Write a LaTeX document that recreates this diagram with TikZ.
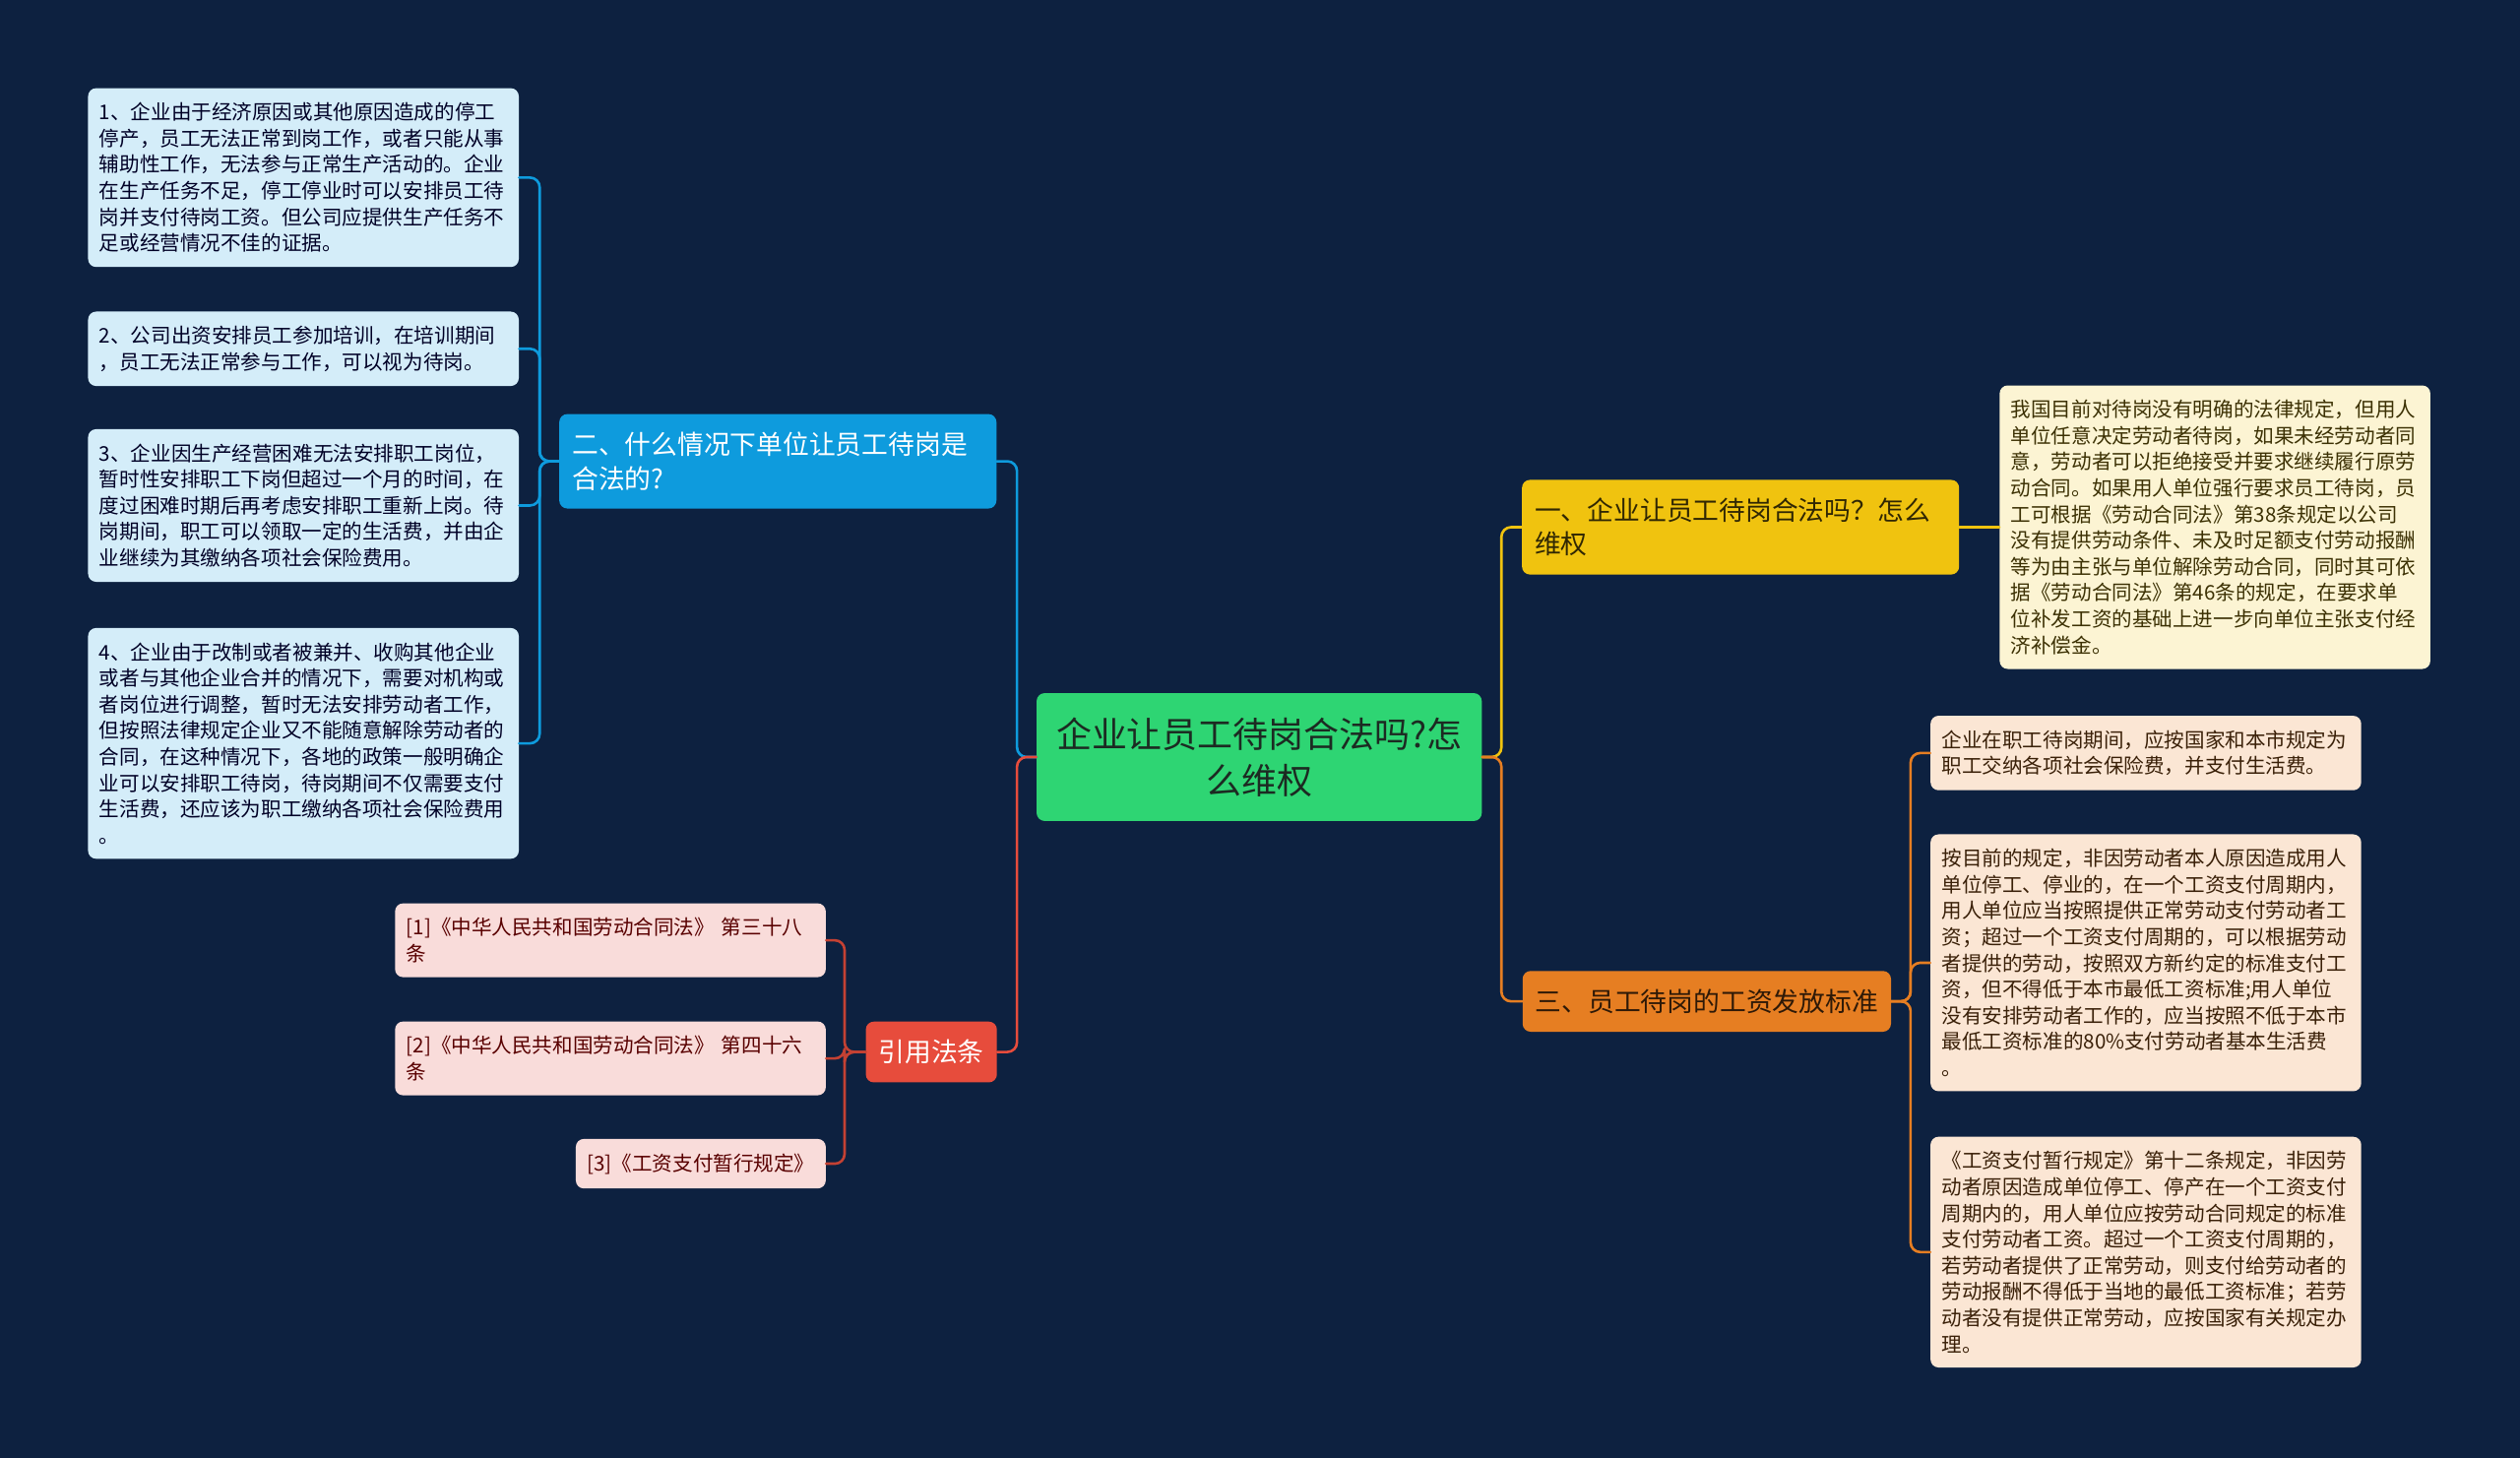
\documentclass[tikz,border=0pt]{standalone}
\usepackage{fontspec}
\setmainfont{Noto Sans CJK SC}

\definecolor{bgnavy}{HTML}{0D2140}
\definecolor{rootgreen}{HTML}{2ED573}
\definecolor{roottext}{HTML}{1C2A22}
\definecolor{bluebranch}{HTML}{0E9BDD}
\definecolor{yellowbranch}{HTML}{F0C30F}
\definecolor{orangebranch}{HTML}{E67E22}
\definecolor{redbranch}{HTML}{E74C3C}
\definecolor{blueleaf}{HTML}{D4EDF9}
\definecolor{pinkleaf}{HTML}{F9DCDA}
\definecolor{creamleaf}{HTML}{FCF4D3}
\definecolor{orangeleaf}{HTML}{FBE6D4}

\begin{document}
\begin{tikzpicture}[x=1pt, y=-1pt, line join=round, line cap=round,
	root/.style={fill=rootgreen, text=roottext, rounded corners=5pt, inner xsep=10pt, inner ysep=15pt, text width=257pt, align=center, font=\fontsize{22}{29}\selectfont},
	branch/.style={rounded corners=5pt, inner xsep=8pt, inner ysep=11.3pt, align=left, font=\fontsize{16.4}{21}\selectfont},
	leaf/.style={rounded corners=5pt, inner xsep=7pt, inner ysep=9pt, align=left, font=\fontsize{12.6}{16.3}\selectfont},
	wideleaf/.style={leaf, text width=254pt},
	link/.style={line width=1.6pt, rounded corners=6pt}]
			
			\useasboundingbox (0,0) rectangle (1568,907);
			
			\fill[bgnavy] (0,0) rectangle (1568,907);
			
			\node[root] (root) at (783.5,471) {企业让员工待岗合法吗?怎\\么维权};
			
			\node[branch, fill=bluebranch, text=white, text width=256pt] (situation) at (484,287) {二、什么情况下单位让员工待岗是\\合法的?};
			
			\node[branch, fill=yellowbranch, text=black!80!yellowbranch, text width=256pt] (legal) at (1083,328) {一、企业让员工待岗合法吗？怎么\\维权};
			
			\node[branch, fill=orangebranch, text=black!80!orangebranch] (wage) at (1062,623) {三、员工待岗的工资发放标准};
			
			\node[branch, fill=redbranch, text=white] (laws) at (579.5,654.5) {引用法条};
			
			\node[wideleaf, fill=blueleaf, text=black!85!blue, anchor=east] (case1) at (323,110.5) {1、企业由于经济原因或其他原因造成的停工\\停产，员工无法正常到岗工作，或者只能从事\\辅助性工作，无法参与正常生产活动的。企业\\在生产任务不足，停工停业时可以安排员工待\\岗并支付待岗工资。但公司应提供生产任务不\\足或经营情况不佳的证据。};
			
			\node[wideleaf, fill=blueleaf, text=black!85!blue, anchor=east] (case2) at (323,217) {2、公司出资安排员工参加培训，在培训期间\\，员工无法正常参与工作，可以视为待岗。};
			
			\node[wideleaf, fill=blueleaf, text=black!85!blue, anchor=east] (case3) at (323,314.5) {3、企业因生产经营困难无法安排职工岗位，\\暂时性安排职工下岗但超过一个月的时间，在\\度过困难时期后再考虑安排职工重新上岗。待\\岗期间，职工可以领取一定的生活费，并由企\\业继续为其缴纳各项社会保险费用。};
			
			\node[wideleaf, fill=blueleaf, text=black!85!blue, anchor=east] (case4) at (323,462.5) {4、企业由于改制或者被兼并、收购其他企业\\或者与其他企业合并的情况下，需要对机构或\\者岗位进行调整，暂时无法安排劳动者工作，\\但按照法律规定企业又不能随意解除劳动者的\\合同，在这种情况下，各地的政策一般明确企\\业可以安排职工待岗，待岗期间不仅需要支付\\生活费，还应该为职工缴纳各项社会保险费用\\。};
			
			\node[wideleaf, fill=pinkleaf, text=black!65!red, anchor=east] (law1) at (514,585) {[1]《中华人民共和国劳动合同法》 第三十八\\条};
			
			\node[wideleaf, fill=pinkleaf, text=black!65!red, anchor=east] (law2) at (514,658.5) {[2]《中华人民共和国劳动合同法》 第四十六\\条};
			
			\node[leaf, fill=pinkleaf, text=black!65!red, anchor=east] (law3) at (514,724) {[3]《工资支付暂行规定》};
			
			\node[wideleaf, fill=creamleaf, text=black!75!yellowbranch, anchor=west] (rights) at (1244,328) {我国目前对待岗没有明确的法律规定，但用人\\单位任意决定劳动者待岗，如果未经劳动者同\\意，劳动者可以拒绝接受并要求继续履行原劳\\动合同。如果用人单位强行要求员工待岗，员\\工可根据《劳动合同法》第38条规定以公司\\没有提供劳动条件、未及时足额支付劳动报酬\\等为由主张与单位解除劳动合同，同时其可依\\据《劳动合同法》第46条的规定，在要求单\\位补发工资的基础上进一步向单位主张支付经\\济补偿金。};
			
			\node[wideleaf, fill=orangeleaf, text=black!75!orangebranch, anchor=west] (pay1) at (1201,468.5) {企业在职工待岗期间，应按国家和本市规定为\\职工交纳各项社会保险费，并支付生活费。};
			
			\node[wideleaf, fill=orangeleaf, text=black!75!orangebranch, anchor=west] (pay2) at (1201,599) {按目前的规定，非因劳动者本人原因造成用人\\单位停工、停业的，在一个工资支付周期内，\\用人单位应当按照提供正常劳动支付劳动者工\\资；超过一个工资支付周期的，可以根据劳动\\者提供的劳动，按照双方新约定的标准支付工\\资，但不得低于本市最低工资标准;用人单位\\没有安排劳动者工作的，应当按照不低于本市\\最低工资标准的80\%支付劳动者基本生活费\\。};
			
			\node[wideleaf, fill=orangeleaf, text=black!75!orangebranch, anchor=west] (pay3) at (1201,779) {《工资支付暂行规定》第十二条规定，非因劳\\动者原因造成单位停工、停产在一个工资支付\\周期内的，用人单位应按劳动合同规定的标准\\支付劳动者工资。超过一个工资支付周期的，\\若劳动者提供了正常劳动，则支付给劳动者的\\劳动报酬不得低于当地的最低工资标准；若劳\\动者没有提供正常劳动，应按国家有关规定办\\理。};
			
			\draw[link, bluebranch] (root.west) -- ++(-12,0) |- (situation.east);
			
			\draw[link, redbranch] (root.west) -- ++(-12,0) |- (laws.east);
			
			\draw[link, yellowbranch] (root.east) -- ++(12,0) |- (legal.west);
			
			\draw[link, orangebranch] (root.east) -- ++(12,0) |- (wage.west);
			
			\foreach \leafname in {case1, case2, case3, case4}
				\draw[link, bluebranch] (situation.west) -- ++(-12,0) |- (\leafname.east);
			
			\foreach \leafname in {law1, law2, law3}
				\draw[link, redbranch!85!black] (laws.west) -- ++(-13,0) |- (\leafname.east);
			
			\draw[link, yellowbranch] (legal.east) -- (rights.west);
			
			\foreach \leafname in {pay1, pay2, pay3}
				\draw[link, orangebranch] (wage.east) -- ++(12,0) |- (\leafname.west);
			
		\end{tikzpicture}
\end{document}
